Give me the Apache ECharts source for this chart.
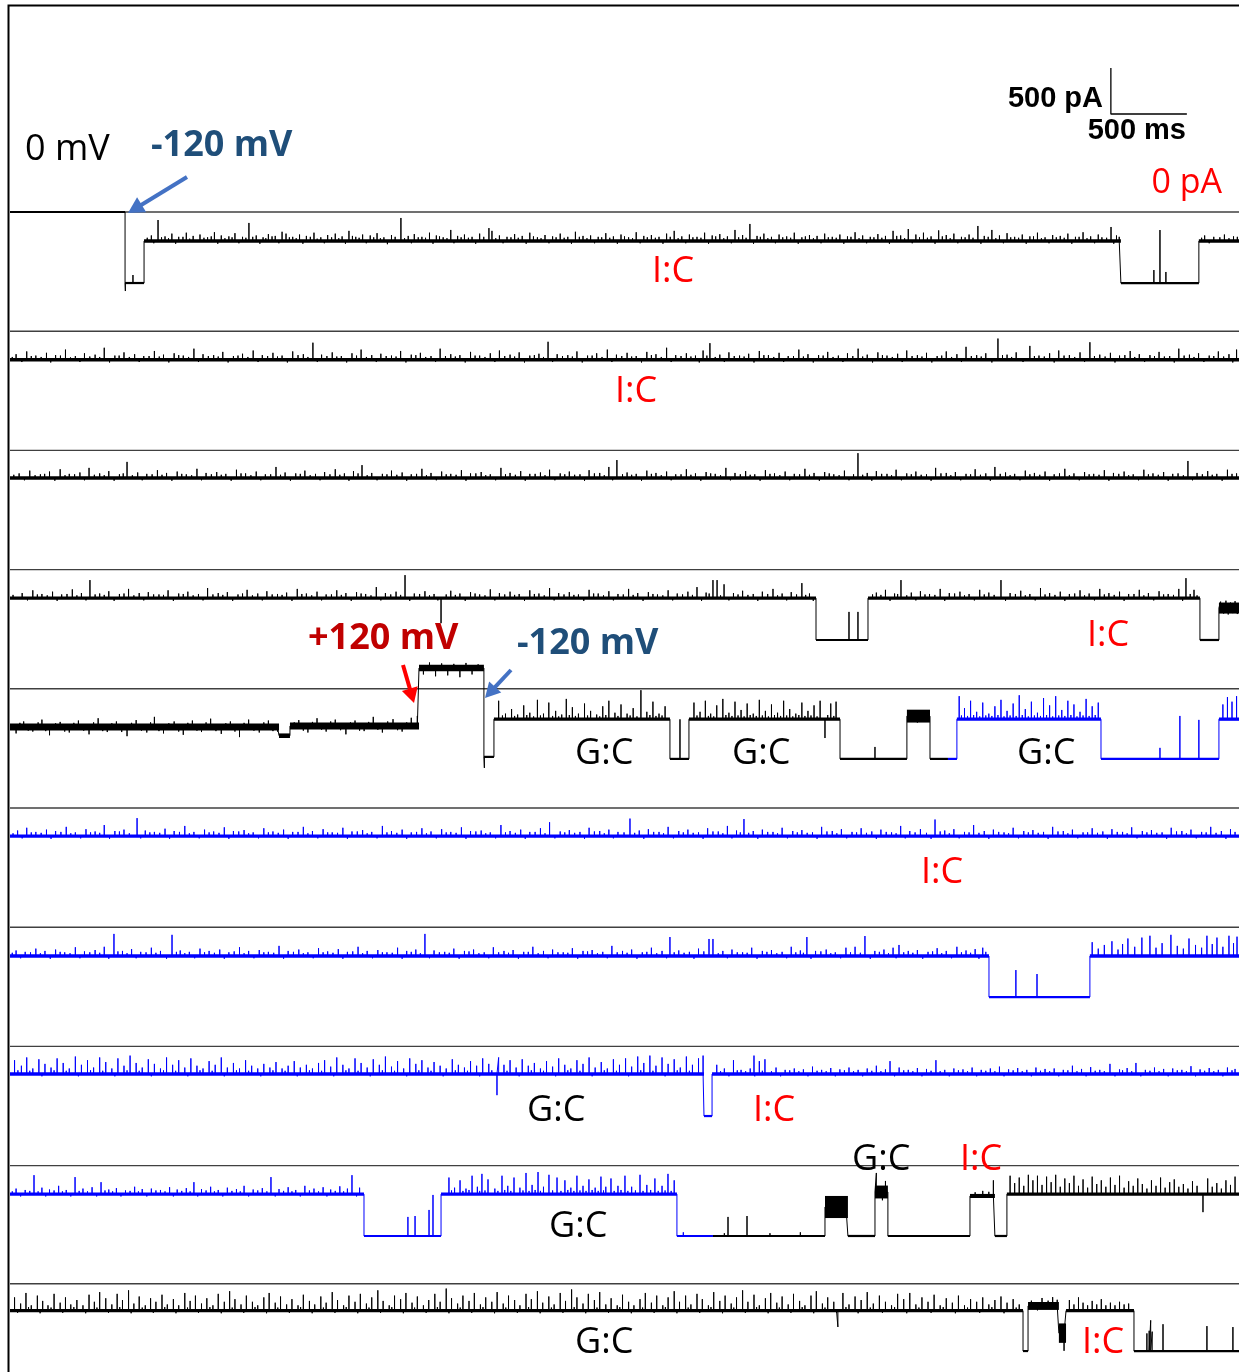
<!DOCTYPE html>
<html>
<head>
<meta charset="utf-8">
<script src="https://cdn.jsdelivr.net/npm/echarts@6/dist/echarts.min.js"></script>
<style>
  html, body { margin: 0; padding: 0; background: #ffffff; }
  #chart { width: 1239px; height: 1372px; }
</style>
</head>
<body>
<div id="chart"></div>
<script>
// ---------------------------------------------------------------------------
// Single-channel current recording, cut into ten consecutive sweeps.
// Level segments: [start ms, end ms, mean current pA, noise half-width pA, trace]
//   trace 0 = first recording (black), trace 1 = second recording (blue)
// Spikes / flicker: [time ms, excursion pA relative to the level at that time]
// ---------------------------------------------------------------------------
const SWEEP_MS = 8086;

const row1Levels = [
  [0, 757, 0, 12, 0],
  [757, 882, -772, 12, 0],
  [882, 7309, -315, 18, 0],
  [7309, 7822, -772, 12, 0],
  [7822, 8086, -315, 18, 0]
];
const row1Spikes = [
  [759,-87],[809,87],
  [930,60],[974,228],[1020,50],[1065,80],[1110,45],[1160,90],[1205,55],[1250,70],[1300,40],[1345,95],[1390,60],[1440,50],[1480,85],[1530,45],[1572,196],[1620,60],[1665,40],[1700,75],[1745,55],[1790,100],[1816,80],[1860,45],[1905,70],[1950,55],[2000,90],[2045,40],[2090,65],[2140,80],[2185,50],[2230,110],[2275,45],[2320,70],[2370,60],[2415,85],[2460,40],[2510,65],[2572,250],[2620,55],[2660,75],[2710,45],[2760,90],[2805,60],[2850,40],[2900,120],[2945,55],[2990,70],[3040,45],[3090,80],[3151,140],[3171,110],[3220,60],[3270,45],[3320,75],[3370,55],[3420,90],[3470,40],[3520,65],[3570,50],[3620,80],[3670,45],[3720,100],[3770,55],[3820,60],[3870,45],[3920,85],[3970,50],[4020,70],[4070,40],[4120,95],[4170,55],[4220,65],[4270,45],[4320,80],[4370,110],[4420,50],[4470,70],[4520,45],[4570,90],[4620,60],[4670,75],[4720,50],[4770,120],[4820,65],[4868,185],[4915,55],[4960,80],[5010,45],[5060,70],[5110,50],[5160,90],[5210,40],[5260,65],[5310,55],[5360,80],[5410,45],[5460,70],[5510,50],[5560,95],[5610,60],[5660,45],[5710,75],[5760,55],[5810,110],[5860,60],[5910,130],[5960,70],[6010,90],[6060,50],[6110,115],[6160,65],[6210,80],[6260,45],[6310,70],[6368,163],[6410,55],[6460,120],[6510,60],[6560,85],[6610,45],[6660,70],[6710,50],[6760,90],[6810,40],[6860,65],[6910,55],[6960,80],[7010,45],[7060,95],[7110,50],[7160,70],[7244,152],[7280,60],
  [7526,141],[7566,576],[7605,120],
  [7860,60],[7920,45],[7990,70],[8050,50]
];
const row1Flicker = [
  [903,35],[946,-25],[997,40],[1043,30],[1090,-30],[1138,45],[1182,25],[1229,-20],[1276,35],[1324,50],[1367,-30],[1414,30],[1461,40],[1506,-25],[1552,35],[1597,45],[1644,-30],[1683,30],[1724,50],[1769,-25],[1838,40],[1883,30],[1927,-30],[1976,45],[2021,25],[2068,-25],[2116,40],[2163,30],[2207,-30],[2253,55],[2297,35],[2344,-25],[2393,40],[2437,30],[2483,-35],[2534,45],[2596,30],[2641,-25],[2686,40],[2734,35],[2783,-30],[2826,50],[2875,30],[2921,-25],[2968,40],[3016,35],[3064,-30],[3117,45],[3196,30],[3244,-25],[3296,40],[3344,35],[3396,-30],[3444,50],[3494,30],[3546,-25],[3593,40],[3646,35],[3694,-30],[3746,45],[3796,30],[3846,-25],[3893,40],[3946,35],[3996,-30],[4043,50],[4096,30],[4146,-25],[4193,40],[4246,35],[4296,-30],[4344,45],[4396,30],[4446,-25],[4493,40],[4546,35],[4596,-30],[4643,50],[4696,30],[4746,-25],[4794,40],[4843,35],[4892,-30],[4937,45],[4986,30],[5036,-25],[5084,40],[5136,35],[5186,-30],[5233,50],[5286,30],[5336,-25],[5384,40],[5436,35],[5486,-30],[5533,45],[5586,30],[5636,-25],[5684,40],[5736,35],[5786,-30],[5834,55],[5886,30],[5936,-25],[5984,40],[6036,35],[6086,-30],[6134,50],[6186,30],[6236,-25],[6284,40],[6336,35],[6388,-30],[6436,45],[6486,30],[6536,-25],[6584,40],[6636,35],[6686,-30],[6734,50],[6786,30],[6836,-25],[6884,40],[6936,35],[6986,-30],[7034,45],[7086,30],[7136,-25],[7184,40],[7215,35],[7262,-30],[7298,45],[7840,35],[7890,-25],[7960,40],[8020,30],[8075,45]
];

const row2Levels = [[0, 8086, -310, 18, 0]];
const row2Spikes = [
  [40,60],[110,90],[170,45],[240,75],[300,50],[365,110],[430,40],[490,70],[560,55],[620,130],[690,45],[750,80],[820,60],[880,40],[950,95],[1010,55],[1080,70],[1140,45],[1210,120],[1270,60],[1340,50],[1400,85],[1470,40],[1530,65],[1600,100],[1660,50],[1730,75],[1790,45],[1860,90],[1930,60],[1993,185],[2050,55],[2120,80],[2180,40],[2250,70],[2310,110],[2380,50],[2440,65],[2510,45],[2570,95],[2640,55],[2700,75],[2770,40],[2830,120],[2900,60],[2960,50],[3030,85],[3090,45],[3160,70],[3220,100],[3290,55],[3350,80],[3420,45],[3480,65],[3540,195],[3600,60],[3670,50],[3730,90],[3800,45],[3860,70],[3930,110],[3990,55],[4060,75],[4120,40],[4190,85],[4250,60],[4320,130],[4380,50],[4450,70],[4510,45],[4560,100],[4605,180],[4670,55],[4730,80],[4800,45],[4860,65],[4930,95],[4990,50],[5060,75],[5120,40],[5190,110],[5250,60],[5320,50],[5380,85],[5450,45],[5510,70],[5580,120],[5640,55],[5710,80],[5770,45],[5840,65],[5900,100],[5970,50],[6030,75],[6100,40],[6160,90],[6230,60],[6290,140],[6360,50],[6420,70],[6500,230],[6560,55],[6620,80],[6710,150],[6770,45],[6840,70],[6900,100],[6970,50],[7040,80],[7105,190],[7170,55],[7240,75],[7300,45],[7370,95],[7430,60],[7500,50],[7560,85],[7630,40],[7690,120],[7760,55],[7820,70],[7890,45],[7950,90],[8020,60],[8070,110]
];
const row2Flicker = [
  [15,30],[78,-25],[140,40],[205,30],[268,-30],[332,45],[398,25],[460,-25],[525,35],[590,30],[655,-30],[718,45],[785,30],[850,-25],[915,40],[982,35],[1045,-30],[1110,50],[1175,30],[1240,-25],[1305,40],[1370,35],[1435,-30],[1500,45],[1565,30],[1632,-25],[1695,40],[1760,35],[1825,-30],[1895,50],[1960,30],[2022,-25],[2085,40],[2150,35],[2215,-30],[2280,45],[2345,30],[2410,-25],[2475,40],[2540,35],[2605,-30],[2670,50],[2735,30],[2800,-25],[2865,40],[2930,35],[2995,-30],[3060,45],[3125,30],[3190,-25],[3255,40],[3320,35],[3385,-30],[3450,50],[3510,30],[3570,-25],[3635,40],[3700,35],[3765,-30],[3830,45],[3895,30],[3960,-25],[4025,40],[4090,35],[4155,-30],[4220,50],[4285,30],[4350,-25],[4415,40],[4480,35],[4535,-30],[4585,45],[4640,30],[4700,-25],[4765,40],[4830,35],[4895,-30],[4960,50],[5025,30],[5090,-25],[5155,40],[5220,35],[5285,-30],[5350,45],[5415,30],[5480,-25],[5545,40],[5610,35],[5675,-30],[5740,50],[5805,30],[5870,-25],[5935,40],[6000,35],[6065,-30],[6130,45],[6195,30],[6260,-25],[6325,40],[6390,35],[6460,-30],[6530,50],[6590,30],[6665,-25],[6740,40],[6805,35],[6870,-30],[6935,45],[7005,30],[7070,-25],[7135,40],[7205,35],[7270,-30],[7335,50],[7400,30],[7465,-25],[7530,40],[7595,35],[7660,-30],[7725,45],[7790,30],[7855,-25],[7920,40],[7985,35],[8045,-30]
];

const row3Levels = [[0, 8086, -300, 18, 0]];
const row3Spikes = [
  [60,50],[130,80],[200,40],[260,70],[330,95],[390,45],[460,60],[520,110],[590,50],[650,75],[720,40],[770,175],[840,60],[900,45],[970,85],[1030,55],[1100,70],[1160,40],[1230,100],[1290,55],[1360,65],[1420,45],[1490,90],[1550,50],[1620,70],[1680,40],[1750,120],[1810,60],[1880,50],[1940,80],[2010,45],[2070,65],[2140,95],[2200,50],[2260,75],[2316,140],[2380,55],[2450,45],[2510,80],[2580,60],[2640,40],[2710,100],[2770,55],[2840,70],[2900,45],[2970,85],[3030,50],[3100,65],[3160,40],[3230,110],[3290,55],[3360,75],[3420,45],[3490,60],[3550,90],[3620,50],[3680,70],[3750,40],[3810,85],[3880,55],[3940,120],[3993,195],[4060,60],[4120,45],[4190,80],[4250,55],[4320,70],[4380,40],[4450,95],[4510,50],[4580,65],[4640,45],[4710,110],[4770,55],[4840,75],[4900,40],[4970,85],[5030,50],[5100,70],[5160,45],[5230,100],[5290,55],[5360,65],[5420,40],[5490,80],[5579,270],[5640,55],[5700,75],[5770,45],[5830,90],[5900,50],[5960,70],[6030,40],[6090,110],[6160,55],[6220,65],[6290,45],[6350,95],[6420,50],[6480,120],[6550,60],[6610,45],[6680,80],[6740,55],[6810,70],[6870,40],[6940,100],[7000,50],[7070,65],[7130,45],[7200,85],[7260,55],[7330,70],[7390,40],[7460,90],[7520,50],[7590,65],[7650,45],[7750,185],[7810,55],[7880,75],[7940,45],[8010,90],[8070,50]
];
const row3Flicker = [
  [25,35],[95,-25],[165,30],[228,45],[295,-30],[362,30],[425,40],[490,-25],[555,35],[620,30],[685,-30],[745,50],[805,30],[870,-25],[935,40],[1000,35],[1065,-30],[1130,45],[1195,30],[1260,-25],[1325,40],[1390,35],[1455,-30],[1520,50],[1585,30],[1650,-25],[1715,40],[1780,35],[1845,-30],[1910,45],[1975,30],[2040,-25],[2105,40],[2170,35],[2230,-30],[2290,50],[2350,30],[2415,-25],[2480,40],[2545,35],[2610,-30],[2675,45],[2740,30],[2805,-25],[2870,40],[2935,35],[3000,-30],[3065,50],[3130,30],[3195,-25],[3260,40],[3325,35],[3390,-30],[3455,45],[3520,30],[3585,-25],[3650,40],[3715,35],[3780,-30],[3845,50],[3910,30],[3965,-25],[4030,40],[4090,35],[4155,-30],[4220,45],[4285,30],[4350,-25],[4415,40],[4480,35],[4545,-30],[4610,50],[4675,30],[4740,-25],[4805,40],[4870,35],[4935,-30],[5000,45],[5065,30],[5130,-25],[5195,40],[5260,35],[5325,-30],[5390,50],[5455,30],[5520,-25],[5550,40],[5610,35],[5670,-30],[5735,45],[5800,30],[5865,-25],[5930,40],[5995,35],[6060,-30],[6125,50],[6190,30],[6255,-25],[6320,40],[6385,35],[6450,-30],[6515,45],[6580,30],[6645,-25],[6710,40],[6775,35],[6840,-30],[6905,50],[6970,30],[7035,-25],[7100,40],[7165,35],[7230,-30],[7295,45],[7360,30],[7425,-25],[7490,40],[7555,35],[7620,-30],[7685,50],[7720,30],[7780,-25],[7845,40],[7910,35],[7975,-30],[8040,45]
];

const row4Levels = [
  [0, 5303, -310, 18, 0],
  [5303, 5645, -765, 12, 0],
  [5645, 7829, -310, 18, 0],
  [7829, 7954, -765, 12, 0],
  [7954, 8086, -418, 60, 0]
];
const row4Spikes = [
  [80,55],[150,85],[210,45],[280,70],[340,40],[410,95],[470,55],[526,196],[590,50],[650,75],[720,45],[780,100],[850,55],[910,65],[980,40],[1040,85],[1110,50],[1170,70],[1240,45],[1300,110],[1370,55],[1430,65],[1500,40],[1560,90],[1630,50],[1690,75],[1760,45],[1820,60],[1890,100],[1950,50],[2020,70],[2080,40],[2150,85],[2210,55],[2280,65],[2340,45],[2410,120],[2470,55],[2540,70],[2599,250],[2660,50],[2730,75],[2790,45],[2836,-272],[2900,80],[2960,50],[3030,65],[3090,40],[3160,95],[3220,55],[3290,70],[3350,45],[3420,85],[3480,50],[3550,110],[3610,55],[3680,65],[3740,40],[3810,90],[3870,50],[3940,75],[4000,45],[4070,100],[4130,55],[4200,65],[4260,40],[4330,85],[4390,50],[4460,70],[4520,120],[4580,60],[4625,196],[4652,196],[4698,150],[4760,55],[4820,80],[4890,45],[4950,70],[5020,100],[5080,50],[5140,65],[5210,163],[5260,50],
  [5520,305],[5579,305],
  [5700,60],[5760,90],[5820,50],[5862,196],[5930,60],[5990,75],[6050,45],[6120,100],[6180,55],[6250,70],[6310,45],[6380,90],[6440,60],[6520,196],[6580,55],[6650,80],[6710,45],[6780,110],[6840,55],[6910,70],[6970,45],[7040,85],[7100,50],[7170,100],[7230,55],[7300,70],[7360,45],[7430,90],[7490,55],[7560,75],[7620,45],[7690,100],[7737,217],[7790,90],
  [7965,70],[7985,-60],[8000,80],[8015,-70],[8030,60],[8045,-55],[8060,75],[8075,-65]
];
const row4Flicker = [
  [20,35],[115,-25],[180,40],[245,30],[310,-30],[375,45],[440,30],[500,-25],[560,40],[620,35],[685,-30],[750,50],[815,30],[880,-25],[945,40],[1010,35],[1075,-30],[1140,45],[1205,30],[1270,-25],[1335,40],[1400,35],[1465,-30],[1530,50],[1595,30],[1660,-25],[1725,40],[1790,35],[1855,-30],[1920,45],[1985,30],[2050,-25],[2115,40],[2180,35],[2245,-30],[2310,50],[2375,30],[2440,-25],[2505,40],[2570,35],[2630,-30],[2695,45],[2760,30],[2815,-25],[2870,40],[2930,35],[2995,-30],[3060,50],[3125,30],[3190,-25],[3255,40],[3320,35],[3385,-30],[3450,45],[3515,30],[3580,-25],[3645,40],[3710,35],[3775,-30],[3840,50],[3905,30],[3970,-25],[4035,40],[4100,35],[4165,-30],[4230,45],[4295,30],[4360,-25],[4425,40],[4490,35],[4550,-30],[4600,50],[4675,30],[4730,-25],[4790,40],[4855,35],[4920,-30],[4985,45],[5050,30],[5110,-25],[5175,40],[5235,35],[5285,-30],[5675,40],[5730,35],[5790,-30],[5840,45],[5900,30],[5960,-25],[6020,40],[6085,35],[6150,-30],[6215,50],[6280,30],[6345,-25],[6410,40],[6475,35],[6550,-30],[6615,45],[6680,30],[6745,-25],[6810,40],[6875,35],[6940,-30],[7005,50],[7070,30],[7135,-25],[7200,40],[7265,35],[7330,-30],[7395,45],[7460,30],[7525,-25],[7590,40],[7655,35],[7715,-30],[7765,45],[7810,30]
];

const row5Levels = [
  [0, 1770, -415, 38, 0],
  [1770, 1842, -510, 25, 0],
  [1842, 2691, -405, 38, 0],
  [2691, 3118, 226, 35, 0],
  [3118, 3184, -740, 12, 0],
  [3184, 4342, -330, 18, 0],
  [4342, 4467, -762, 12, 0],
  [4467, 5461, -330, 18, 0],
  [5461, 5901, -762, 12, 0],
  [5901, 6053, -297, 70, 0],
  [6053, 6171, -762, 12, 0],
  [6171, 6230, -762, 12, 1],
  [6230, 7178, -330, 18, 1],
  [7178, 7954, -762, 12, 1],
  [7954, 8086, -330, 18, 1]
];
const row5Spikes = [
  [40,-70],[90,60],[150,-50],[210,80],[260,-90],[330,55],[390,-60],[450,70],[520,-80],[580,95],[640,-55],[700,60],[770,-100],[830,75],[900,-60],[950,110],[1010,-70],[1080,60],[1140,-85],[1200,70],[1260,-55],[1320,90],[1390,-75],[1450,60],[1510,-110],[1570,80],[1640,-60],[1700,70],[1760,-50],[1900,65],[1960,-70],[2020,85],[2080,-60],[2140,70],[2210,-90],[2270,60],[2330,-55],[2390,100],[2450,-70],[2520,75],[2580,-60],[2640,90],[2680,110],
  [2720,-70],[2760,60],[2800,-90],[2840,50],[2880,-80],[2920,45],[2960,-100],[3000,55],[3040,-70],[3080,40],
  [3121,-120],
  [3215,200],[3260,60],[3300,110],[3340,50],[3380,150],[3420,70],[3470,210],[3510,60],[3545,180],[3590,90],[3630,50],[3660,220],[3700,130],[3740,60],[3780,170],[3820,90],[3860,50],[3900,140],[3940,200],[3980,70],[4020,160],[4060,60],[4100,120],[4151,315],[4190,80],[4230,190],[4270,60],[4310,140],
  [4408,430],
  [4500,180],[4540,80],[4575,200],[4610,60],[4650,150],[4690,220],[4730,70],[4770,190],[4810,100],[4850,170],[4890,60],[4930,210],[4970,90],[5010,160],[5050,70],[5090,200],[5130,110],[5170,60],[5210,180],[5250,90],[5290,150],[5330,200],[5362,-205],[5400,170],[5435,190],
  [5691,130],
  [5930,60],[5970,-70],[6010,50],
  [6245,250],[6280,120],[6320,200],[6360,80],[6400,180],[6440,60],[6480,140],[6520,210],[6560,90],[6600,170],[6640,260],[6680,110],[6720,190],[6760,70],[6800,230],[6840,150],[6880,250],[6920,100],[6960,200],[7000,160],[7040,80],[7080,220],[7120,140],[7160,180],
  [7566,120],[7697,467],[7822,424],
  [7980,160],[8010,240],[8040,190],[8070,250]
];
const row5Flicker = [
  [65,45],[120,-40],[185,50],[235,-45],[300,40],[360,-50],[420,45],[485,-40],[550,50],[610,-45],[670,40],[735,-55],[800,45],[865,-40],[925,50],[980,-45],[1045,40],[1110,-50],[1170,45],[1230,-40],[1290,50],[1355,-45],[1420,40],[1480,-50],[1540,45],[1605,-40],[1670,50],[1730,-45],[1870,40],[1930,-50],[1990,45],[2050,-40],[2110,50],[2175,-45],[2240,40],[2300,-50],[2360,45],[2420,-40],[2485,50],[2550,-45],[2610,40],
  [3240,40],[3320,35],[3400,45],[3445,30],[3490,40],[3570,35],[3610,30],[3680,45],[3720,35],[3800,40],[3880,30],[3920,45],[4000,35],[4080,40],[4125,30],[4210,45],[4250,35],[4290,40],
  [4520,40],[4595,35],[4630,30],[4710,45],[4750,35],[4790,40],[4830,30],[4870,45],[4910,35],[4950,40],[4990,30],[5030,45],[5070,35],[5110,40],[5150,30],[5190,45],[5230,35],[5270,40],[5310,30],[5380,45],[5420,35],
  [6260,40],[6300,35],[6340,45],[6380,30],[6420,40],[6460,35],[6500,45],[6540,30],[6580,40],[6620,35],[6660,45],[6700,30],[6740,40],[6780,35],[6820,45],[6860,30],[6900,40],[6940,35],[6980,45],[7020,30],[7060,40],[7100,35],[7140,45]
];

const row6Levels = [[0, 8086, -305, 18, 1]];
const row6Spikes = [
  [50,60],[110,90],[170,45],[240,70],[300,55],[370,100],[430,40],[500,75],[560,50],[620,120],[690,55],[750,70],[836,195],[890,60],[950,45],[1020,80],[1080,55],[1150,110],[1210,45],[1280,70],[1340,50],[1410,95],[1470,55],[1540,65],[1600,40],[1670,85],[1730,50],[1800,70],[1860,45],[1930,100],[1990,55],[2060,75],[2120,40],[2190,90],[2250,50],[2320,65],[2380,45],[2450,110],[2510,55],[2580,70],[2640,40],[2710,85],[2770,50],[2840,75],[2900,45],[2970,95],[3030,55],[3100,60],[3160,40],[3230,120],[3290,55],[3360,70],[3420,45],[3490,85],[3550,150],[3620,50],[3680,65],[3750,45],[3810,90],[3880,55],[3940,70],[4000,45],[4079,190],[4140,60],[4200,75],[4270,45],[4330,100],[4400,55],[4460,70],[4530,40],[4590,85],[4660,50],[4720,110],[4780,60],[4829,185],[4890,55],[4950,70],[5020,45],[5080,90],[5150,55],[5210,65],[5280,40],[5340,100],[5410,55],[5470,75],[5540,45],[5600,85],[5670,50],[5730,70],[5800,40],[5860,110],[5920,55],[5990,75],[6086,180],[6150,60],[6210,75],[6280,45],[6340,120],[6410,55],[6470,70],[6540,40],[6600,90],[6670,55],[6730,65],[6800,45],[6860,100],[6930,55],[6990,70],[7060,40],[7120,85],[7190,50],[7250,75],[7320,45],[7380,95],[7450,55],[7510,65],[7580,40],[7640,90],[7710,55],[7770,70],[7840,45],[7900,100],[7970,55],[8030,75]
];
const row6Flicker = [
  [20,30],[80,-25],[140,40],[205,35],[270,-30],[335,45],[400,30],[465,-25],[530,40],[590,35],[655,-30],[720,50],[785,30],[860,-25],[920,40],[985,35],[1050,-30],[1115,45],[1180,30],[1245,-25],[1310,40],[1375,35],[1440,-30],[1505,50],[1570,30],[1635,-25],[1700,40],[1765,35],[1830,-30],[1895,45],[1960,30],[2025,-25],[2090,40],[2155,35],[2220,-30],[2285,50],[2350,30],[2415,-25],[2480,40],[2545,35],[2610,-30],[2675,45],[2740,30],[2805,-25],[2870,40],[2935,35],[3000,-30],[3065,50],[3130,30],[3195,-25],[3260,40],[3325,35],[3390,-30],[3455,45],[3520,30],[3585,-25],[3650,40],[3715,35],[3780,-30],[3845,50],[3910,30],[3970,-25],[4040,40],[4110,35],[4170,-30],[4235,45],[4300,30],[4365,-25],[4430,40],[4495,35],[4560,-30],[4625,50],[4690,30],[4750,-25],[4805,40],[4860,35],[4920,-30],[4985,45],[5050,30],[5115,-25],[5180,40],[5245,35],[5310,-30],[5375,50],[5440,30],[5505,-25],[5570,40],[5635,35],[5700,-30],[5765,45],[5830,30],[5890,-25],[5955,40],[6030,35],[6060,-30],[6120,50],[6180,30],[6245,-25],[6310,40],[6375,35],[6440,-30],[6505,45],[6570,30],[6635,-25],[6700,40],[6765,35],[6830,-30],[6895,50],[6960,30],[7025,-25],[7090,40],[7155,35],[7220,-30],[7285,45],[7350,30],[7415,-25],[7480,40],[7545,35],[7610,-30],[7675,50],[7740,30],[7805,-25],[7870,40],[7935,35],[8000,-30],[8060,45]
];

const row7Levels = [
  [0, 6441, -313, 18, 1],
  [6441, 7105, -759, 12, 1],
  [7105, 8086, -313, 18, 1]
];
const row7Spikes = [
  [40,60],[100,45],[170,80],[230,55],[300,70],[360,40],[430,95],[490,50],[560,65],[620,100],[684,240],[740,55],[800,75],[860,45],[930,90],[990,55],[1066,230],[1120,60],[1180,45],[1250,80],[1310,55],[1380,70],[1440,40],[1510,95],[1570,55],[1640,65],[1700,45],[1770,110],[1830,55],[1900,70],[1960,40],[2030,85],[2090,50],[2160,75],[2220,45],[2290,100],[2350,55],[2420,65],[2480,40],[2550,90],[2610,55],[2670,70],[2730,240],[2790,60],[2860,45],[2920,80],[2990,55],[3050,70],[3120,40],[3180,95],[3250,55],[3310,65],[3380,45],[3440,100],[3510,55],[3570,70],[3640,40],[3700,85],[3770,55],[3830,65],[3900,45],[3960,110],[4030,55],[4090,70],[4160,40],[4220,90],[4290,55],[4342,206],[4400,60],[4470,45],[4530,80],[4599,185],[4625,185],[4690,55],[4750,70],[4820,40],[4880,90],[4950,55],[5010,65],[5080,45],[5140,100],[5200,60],[5243,206],[5300,55],[5370,70],[5430,40],[5500,90],[5560,100],[5625,217],[5690,55],[5750,70],[5810,90],[5849,120],[5910,55],[5970,65],[6040,45],[6100,85],[6160,55],[6230,100],[6290,60],[6350,75],[6400,90],
  [6618,293],[6757,250],
  [7120,150],[7160,80],[7200,120],[7250,160],[7290,70],[7320,130],[7355,190],[7400,100],[7447,200],[7500,220],[7540,90],[7580,140],[7638,230],[7680,110],[7720,80],[7757,190],[7800,120],[7840,90],[7875,220],[7910,130],[7941,200],[7980,100],[8020,220],[8050,140],[8073,210]
];
const row7Flicker = [
  [15,35],[70,-25],[135,40],[200,30],[265,-30],[330,45],[395,30],[460,-25],[525,40],[590,35],[650,-30],[710,50],[770,30],[830,-25],[895,40],[960,35],[1030,-30],[1095,45],[1150,30],[1215,-25],[1280,40],[1345,35],[1410,-30],[1475,50],[1540,30],[1605,-25],[1670,40],[1735,35],[1800,-30],[1865,45],[1930,30],[1995,-25],[2060,40],[2125,35],[2190,-30],[2255,50],[2320,30],[2385,-25],[2450,40],[2515,35],[2580,-30],[2640,45],[2700,30],[2760,-25],[2825,40],[2890,35],[2955,-30],[3020,50],[3085,30],[3150,-25],[3215,40],[3280,35],[3345,-30],[3410,45],[3475,30],[3540,-25],[3605,40],[3670,35],[3735,-30],[3800,50],[3865,30],[3930,-25],[3995,40],[4060,35],[4125,-30],[4190,45],[4255,30],[4320,-25],[4370,40],[4435,35],[4500,-30],[4565,50],[4660,30],[4720,-25],[4785,40],[4850,35],[4915,-30],[4980,45],[5045,30],[5110,-25],[5170,40],[5220,35],[5270,-30],[5335,50],[5400,30],[5465,-25],[5530,40],[5595,35],[5660,-30],[5720,45],[5780,30],[5830,-25],[5880,40],[5940,35],[6005,-30],[6070,50],[6130,30],[6195,-25],[6260,40],[6320,35],[6375,-30],[6420,45]
];

const row8Levels = [
  [0, 4566, -300, 18, 1],
  [4566, 4619, -757, 12, 1],
  [4619, 8086, -300, 18, 1]
];
const row8Spikes = [
  [30,150],[75,90],[110,180],[150,60],[190,160],[230,110],[270,70],[310,170],[350,120],[390,60],[430,190],[470,100],[510,150],[550,70],[590,180],[630,130],[670,60],[710,170],[750,90],[790,200],[830,120],[870,70],[910,160],[950,110],[990,60],[1030,180],[1070,100],[1110,150],[1150,70],[1190,170],[1230,90],[1270,60],[1310,140],[1350,100],[1390,180],[1430,70],[1470,120],[1510,60],[1550,150],[1590,90],[1630,60],[1670,110],[1710,70],[1750,130],[1790,60],[1830,90],[1870,140],[1910,70],[1950,100],[1990,60],[2030,120],[2070,150],[2110,80],[2150,180],[2190,100],[2230,60],[2270,170],[2310,120],[2350,70],[2390,160],[2430,100],[2470,190],[2510,80],[2550,140],[2590,60],[2630,170],[2670,110],[2710,150],[2750,70],[2790,130],[2830,90],[2870,60],[2910,160],[2950,100],[2990,70],[3030,140],[3070,90],[3110,170],[3150,110],[3204,-230],[3215,180],[3250,100],[3290,150],[3330,70],[3370,160],[3410,90],[3450,120],[3490,60],[3530,140],[3570,80],[3610,170],[3650,100],[3690,60],[3730,150],[3770,110],[3810,180],[3850,70],[3890,130],[3930,60],[3970,160],[4010,100],[4050,170],[4090,80],[4130,190],[4170,120],[4210,200],[4250,90],[4290,180],[4330,110],[4370,160],[4410,70],[4450,190],[4490,100],[4530,170],[4560,200],
  [4650,100],[4700,60],[4760,150],[4810,45],[4870,60],[4895,200],[4930,140],[4967,160],[5040,70],[5100,45],[5160,60],[5220,50],[5280,80],[5340,45],[5400,65],[5460,50],[5520,70],[5580,45],[5640,60],[5700,90],[5760,50],[5790,140],[5850,70],[5910,45],[5970,65],[6030,55],[6092,150],[6150,45],[6210,60],[6270,50],[6330,70],[6390,45],[6450,60],[6510,80],[6570,50],[6630,65],[6690,45],[6750,70],[6810,55],[6870,60],[6930,45],[6990,90],[7050,55],[7110,75],[7170,45],[7237,110],[7300,50],[7350,65],[7408,120],[7470,45],[7530,70],[7590,55],[7650,60],[7710,45],[7770,85],[7830,50],[7890,65],[7950,45],[8010,70],[8060,55]
];
const row8Flicker = [
  [52,40],[130,35],[210,-25],[290,40],[370,35],[450,-25],[530,40],[610,35],[690,-25],[770,40],[850,35],[930,-25],[1010,40],[1090,35],[1170,-25],[1250,40],[1330,35],[1410,-25],[1490,40],[1570,35],[1650,-25],[1730,40],[1810,35],[1890,-25],[1970,40],[2050,35],[2130,-25],[2210,40],[2290,35],[2370,-25],[2450,40],[2530,35],[2610,-25],[2690,40],[2770,35],[2850,-25],[2930,40],[3010,35],[3090,-25],[3170,40],[3270,35],[3350,-25],[3430,40],[3510,35],[3590,-25],[3670,40],[3750,35],[3830,-25],[3910,40],[3990,35],[4070,-25],[4150,40],[4230,35],[4310,-25],[4390,40],[4470,35],
  [4675,30],[4730,-25],[4785,40],[4840,30],[4900,-25],[4950,35],[5010,30],[5070,-25],[5130,40],[5190,30],[5250,-25],[5310,35],[5370,30],[5430,-25],[5490,40],[5550,30],[5610,-25],[5670,35],[5730,30],[5820,-25],[5880,40],[5940,30],[6000,-25],[6060,35],[6120,30],[6180,-25],[6240,40],[6300,30],[6360,-25],[6420,35],[6480,30],[6540,-25],[6600,40],[6660,30],[6720,-25],[6780,35],[6840,30],[6900,-25],[6960,40],[7020,30],[7080,-25],[7140,35],[7200,30],[7270,-25],[7320,40],[7380,30],[7440,-25],[7500,35],[7560,30],[7620,-25],[7680,40],[7740,30],[7800,-25],[7860,35],[7920,30],[7980,-25],[8040,40]
];

const row9Levels = [
  [0, 2329, -310, 18, 1],
  [2329, 2836, -765, 12, 1],
  [2836, 4388, -310, 18, 1],
  [4388, 4625, -765, 12, 1],
  [4625, 5362, -765, 12, 0],
  [5362, 5513, -450, 120, 0],
  [5513, 5691, -765, 12, 0],
  [5691, 5776, -287, 70, 0],
  [5776, 6316, -765, 12, 0],
  [6316, 6480, -330, 22, 0],
  [6480, 6559, -765, 12, 0],
  [6559, 8086, -310, 18, 0]
];
const row9Spikes = [
  [40,60],[100,45],[158,206],[210,70],[260,50],[320,90],[370,45],[428,185],[480,60],[540,75],[599,130],[650,50],[700,65],[760,40],[820,80],[870,55],[930,60],[990,45],[1050,75],[1100,50],[1160,65],[1210,130],[1260,55],[1320,80],[1370,45],[1430,70],[1490,55],[1540,90],[1600,50],[1660,65],[1717,185],[1770,55],[1830,75],[1880,45],[1940,90],[2000,60],[2060,75],[2110,50],[2170,85],[2220,60],[2250,206],[2300,70],
  [2618,207],[2665,217],[2757,283],[2783,446],
  [2888,180],[2925,70],[2961,150],[3000,60],[3040,200],[3075,80],[3105,220],[3145,160],[3190,60],[3237,200],[3275,90],[3316,180],[3355,70],[3395,230],[3435,100],[3474,240],[3510,80],[3546,210],[3599,180],[3651,150],[3690,70],[3730,200],[3770,90],[3809,160],[3850,70],[3888,190],[3920,80],[3954,170],[4000,90],[4046,200],[4090,80],[4145,210],[4190,100],[4243,170],[4290,90],[4329,220],[4370,150],
  [4430,40],[4700,30],[4724,207],[4849,217],[5000,30],[5200,40],
  [5380,-60],[5420,90],[5460,-80],[5500,70],
  [5700,207],[5740,-90],[5760,120],
  [6350,40],[6400,55],[6440,45],[6470,170],
  [6580,200],[6610,120],[6640,180],[6670,90],[6700,210],[6730,150],[6760,200],[6790,100],[6820,190],[6850,130],[6880,210],[6910,80],[6940,170],[6970,120],[7000,200],[7030,90],[7060,160],[7090,70],[7120,190],[7150,110],[7180,150],[7210,80],[7240,180],[7270,100],[7300,200],[7330,70],[7360,140],[7390,90],[7420,170],[7450,110],[7480,60],[7510,150],[7540,90],[7570,180],[7600,70],[7630,130],[7660,160],[7690,80],[7720,110],[7750,60],[7780,140],[7810,90],[7849,-196],[7880,170],[7910,80],[7940,120],[7970,60],[8000,150],[8030,100],[8060,190]
];
const row9Flicker = [
  [15,30],[70,-25],[130,35],[185,30],[235,-25],[290,40],[345,30],[400,-25],[455,35],[510,30],[570,-25],[625,40],[675,30],[730,-25],[790,35],[845,30],[900,-25],[960,40],[1020,30],[1075,-25],[1130,35],[1185,30],[1235,-25],[1290,40],[1345,30],[1400,-25],[1460,35],[1515,30],[1570,-25],[1630,40],[1690,30],[1745,-25],[1800,35],[1855,30],[1910,-25],[1970,40],[2030,30],[2085,-25],[2140,35],[2195,30],[2280,-25],
  [2905,40],[2980,35],[3020,45],[3090,35],[3125,40],[3210,35],[3255,45],[3295,35],[3375,40],[3415,35],[3455,45],[3490,35],[3570,40],[3625,35],[3670,45],[3710,35],[3750,40],[3790,35],[3830,45],[3870,35],[3905,40],[3975,35],[4020,45],[4065,35],[4115,40],[4165,35],[4215,45],[4265,35],[4310,40],[4350,35]
];

const row10Levels = [
  [0, 6665, -305, 18, 0],
  [6665, 6698, -763, 12, 0],
  [6698, 6901, -252, 45, 0],
  [6901, 6948, -560, 110, 0],
  [6948, 7395, -305, 18, 0],
  [7395, 8086, -763, 12, 0]
];
const row10Spikes = [
  [30,150],[70,80],[105,200],[140,60],[180,170],[215,110],[250,60],[290,190],[330,90],[365,150],[400,70],[440,120],[480,60],[520,180],[555,100],[590,210],[630,140],[670,70],[705,190],[740,120],[780,230],[815,80],[850,160],[890,60],[925,140],[960,100],[1000,180],[1035,70],[1075,130],[1110,60],[1150,200],[1185,110],[1220,170],[1260,80],[1295,140],[1335,60],[1370,190],[1410,100],[1445,220],[1480,130],[1520,70],[1555,170],[1595,100],[1630,60],[1670,150],[1705,200],[1745,90],[1780,160],[1820,70],[1855,130],[1895,60],[1930,180],[1970,110],[2005,70],[2045,160],[2080,90],[2120,210],[2155,120],[2195,60],[2230,170],[2270,100],[2305,190],[2345,80],[2380,150],[2420,230],[2455,110],[2495,60],[2530,170],[2570,130],[2605,200],[2645,90],[2680,160],[2720,60],[2755,120],[2795,190],[2830,100],[2870,250],[2905,140],[2945,80],[2980,170],[3020,110],[3055,200],[3095,70],[3130,150],[3170,100],[3205,210],[3245,80],[3280,170],[3320,120],[3355,60],[3395,190],[3430,130],[3470,220],[3505,90],[3545,160],[3580,70],[3620,200],[3655,110],[3695,240],[3730,150],[3770,80],[3805,190],[3845,120],[3880,210],[3920,70],[3955,140],[3995,60],[4030,180],[4070,100],[4105,60],[4145,130],[4180,200],[4220,90],[4255,170],[4295,60],[4330,150],[4370,220],[4405,100],[4445,170],[4480,70],[4520,190],[4555,130],[4595,60],[4630,210],[4670,110],[4705,170],[4745,80],[4780,150],[4820,230],[4855,100],[4895,180],[4930,60],[4970,140],[5005,200],[5045,90],[5080,160],[5120,70],[5155,190],[5195,110],[5230,60],[5270,170],[5305,220],[5345,80],[5380,150],[5420,100],[5447,-185],[5480,200],[5520,70],[5560,160],[5600,120],[5640,210],[5680,80],[5720,170],[5760,100],[5800,60],[5840,190],[5880,130],[5920,200],[5960,70],[6000,150],[6040,100],[6080,180],[6120,60],[6160,140],[6200,90],[6240,170],[6280,60],[6320,130],[6360,100],[6400,150],[6440,70],[6480,120],[6520,160],[6560,90],[6600,130],[6640,70],
  [6720,60],[6760,-50],[6790,90],[6830,60],[6860,100],[6890,70],
  [6935,-200],
  [6970,120],[7000,70],[7030,150],[7060,90],[7090,60],[7120,110],[7150,70],[7180,130],[7210,60],[7240,90],[7270,60],[7300,100],[7330,70],[7360,80],
  [7480,200],[7495,230],[7505,348],[7515,220],[7586,304],[7875,283],[8046,272]
];
const row10Flicker = [
  [50,-25],[122,40],[198,-30],[270,35],[347,-25],[420,40],[498,-30],[572,35],[648,-25],[722,40],[797,-30],[870,35],[943,-25],[1018,40],[1092,-30],[1168,35],[1240,-25],[1315,40],[1390,-30],[1462,35],[1538,-25],[1612,40],[1688,-30],[1762,35],[1838,-25],[1912,40],[1988,-30],[2062,35],[2138,-25],[2212,40],[2288,-30],[2362,35],[2438,-25],[2512,40],[2588,-30],[2662,35],[2738,-25],[2812,40],[2888,-30],[2962,35],[3038,-25],[3112,40],[3188,-30],[3262,35],[3338,-25],[3412,40],[3488,-30],[3562,35],[3638,-25],[3712,40],[3788,-30],[3862,35],[3938,-25],[4012,40],[4088,-30],[4162,35],[4238,-25],[4312,40],[4388,-30],[4462,35],[4538,-25],[4612,40],[4688,-30],[4762,35],[4838,-25],[4912,40],[4988,-30],[5062,35],[5138,-25],[5212,40],[5288,-30],[5362,35],[5438,-25],[5500,40],[5580,-30],[5660,35],[5740,-25],[5820,40],[5900,-30],[5980,35],[6060,-25],[6140,40],[6220,-30],[6300,35],[6380,-25],[6460,40],[6540,-30],[6620,35]
];

// Calibration bar: 500 pA by 500 ms, anchored at its corner (ms, pA)
const SCALE_BAR_CORNER = [7243, 765];
const SCALE_BAR_MS = 500;
const SCALE_BAR_PA = 500;

// ---------------------------------------------------------------------------
const sweeps = [
  [row1Levels, row1Spikes, row1Flicker], [row2Levels, row2Spikes, row2Flicker],
  [row3Levels, row3Spikes, row3Flicker], [row4Levels, row4Spikes, row4Flicker],
  [row5Levels, row5Spikes, row5Flicker], [row6Levels, row6Spikes, row6Flicker],
  [row7Levels, row7Spikes, row7Flicker], [row8Levels, row8Spikes, row8Flicker],
  [row9Levels, row9Spikes, row9Flicker], [row10Levels, row10Spikes, row10Flicker]
];

const TRACE_COLORS = ['#000000', '#0000ff'];
const ROW_PA_MIN = -1000, ROW_PA_MAX = 300;
const ROW_FIRST_TOP = 184.4, ROW_PITCH = 119.2, ROW_HEIGHT = 119.6;
const PLOT_LEFT = 10, PLOT_WIDTH = 1229;

// Turn level segments + excursions into a polyline for one recording
function buildTrace(levels, events, trace) {
  const pts = [];
  levels.forEach(([t0, t1, lvl, , tr]) => {
    if (tr !== trace) {
      if (pts.length && pts[pts.length - 1][1] !== null) pts.push([t0, null]);
      return;
    }
    pts.push([t0, lvl]);
    events.filter(s => s[0] >= t0 && s[0] < t1)
      .sort((a, b) => a[0] - b[0])
      .forEach(([t, d]) => { pts.push([t, lvl], [t, lvl + d], [t, lvl]); });
    pts.push([t1, lvl]);
  });
  return pts;
}

const grids = [{ left: PLOT_LEFT, width: PLOT_WIDTH, top: 5, height: 179.4 }];
const xAxes = [{ type: 'value', gridIndex: 0, min: 0, max: SWEEP_MS, show: false }];
const yAxes = [{ type: 'value', gridIndex: 0, min: 0, max: 1950, show: false }];
const series = [{
  type: 'line', xAxisIndex: 0, yAxisIndex: 0, silent: true, showSymbol: false,
  lineStyle: { color: '#000', width: 1.3 },
  data: [
    [SCALE_BAR_CORNER[0], SCALE_BAR_CORNER[1] + SCALE_BAR_PA],
    [SCALE_BAR_CORNER[0], SCALE_BAR_CORNER[1]],
    [SCALE_BAR_CORNER[0] + SCALE_BAR_MS, SCALE_BAR_CORNER[1]]
  ]
}];

sweeps.forEach(([levels, spikes, flicker], i) => {
  const g = i + 1;
  const events = spikes.concat(flicker);
  grids.push({ left: PLOT_LEFT, width: PLOT_WIDTH, top: ROW_FIRST_TOP + i * ROW_PITCH, height: ROW_HEIGHT });
  xAxes.push({ type: 'value', gridIndex: g, min: 0, max: SWEEP_MS, show: false });
  yAxes.push({ type: 'value', gridIndex: g, min: ROW_PA_MIN, max: ROW_PA_MAX, show: false });
  // 0 pA reference
  series.push({
    type: 'line', xAxisIndex: g, yAxisIndex: g, silent: true, showSymbol: false, z: 1,
    lineStyle: { color: '#404040', width: 1.4 },
    data: [[0, 0], [SWEEP_MS, 0]]
  });
  // baseline noise band of each level
  series.push({
    type: 'custom', xAxisIndex: g, yAxisIndex: g, silent: true, z: 2,
    data: levels,
    encode: { x: [0, 1], y: 2 },
    renderItem: (params, api) => {
      const a = api.coord([api.value(0), api.value(2) + api.value(3)]);
      const b = api.coord([api.value(1), api.value(2) - api.value(3)]);
      return {
        type: 'rect',
        shape: { x: a[0], y: a[1], width: b[0] - a[0], height: Math.max(b[1] - a[1], 1.5) },
        style: { fill: TRACE_COLORS[api.value(4)] }
      };
    }
  });
  // current traces (black and blue recordings)
  [0, 1].forEach(tr => {
    const pts = buildTrace(levels, events, tr);
    if (!pts.some(p => p[1] !== null)) return;
    series.push({
      type: 'line', xAxisIndex: g, yAxisIndex: g, silent: true, showSymbol: false, z: 3,
      connectNulls: false,
      lineStyle: { color: TRACE_COLORS[tr], width: 1 },
      data: pts
    });
  });
});

// Annotations
const FONT = '"Open Sans", "Noto Sans", sans-serif';
function label(text, x, y, color, size, weight, align, family) {
  return {
    type: 'text', x, y, z: 100, silent: true,
    style: {
      text, fill: color, font: `${weight} ${size}px ${family || FONT}`,
      textAlign: align || 'left', textVerticalAlign: 'middle'
    }
  };
}
function arrow(tail, tip, color, width, head) {
  const dx = tip[0] - tail[0], dy = tip[1] - tail[1];
  const len = Math.hypot(dx, dy), ux = dx / len, uy = dy / len;
  const base = [tip[0] - ux * head, tip[1] - uy * head];
  const hw = head * 0.55, px = -uy * hw, py = ux * hw;
  return [
    { type: 'line', z: 100, silent: true,
      shape: { x1: tail[0], y1: tail[1], x2: base[0] + ux * 2, y2: base[1] + uy * 2 },
      style: { stroke: color, lineWidth: width } },
    { type: 'polygon', z: 100, silent: true,
      shape: { points: [tip, [base[0] + px, base[1] + py], [base[0] - px, base[1] - py]] },
      style: { fill: color } }
  ];
}

const RED = '#ff0000', DARK_RED = '#c00000', STEEL = '#1f4e79', ARROW_BLUE = '#4472c4';
const ARIAL = '"Liberation Sans", Arial, sans-serif';

const graphics = [
  { type: 'rect', z: 100, silent: true,
    shape: { x: 8.5, y: 5.5, width: 1400, height: 1500 },
    style: { fill: null, stroke: '#000', lineWidth: 2 } },
  label('0 mV', 25, 150, '#000', 36, 'normal'),
  label('-120 mV', 151, 146, STEEL, 36, 'bold'),
  label('500 pA', 1103, 99, '#000', 29, 'bold', 'right', ARIAL),
  label('500 ms', 1186, 131, '#000', 29, 'bold', 'right', ARIAL),
  label('0 pA', 1222, 183, RED, 34, 'normal', 'right'),
  label('I:C', 652, 272, RED, 36, 'normal'),
  label('I:C', 615, 392, RED, 36, 'normal'),
  label('I:C', 1087, 636, RED, 36, 'normal'),
  label('+120 mV', 308, 639, DARK_RED, 36, 'bold'),
  label('-120 mV', 517, 644, STEEL, 36, 'bold'),
  label('G:C', 575, 754, '#000', 36, 'normal'),
  label('G:C', 732, 754, '#000', 36, 'normal'),
  label('G:C', 1017, 754, '#000', 36, 'normal'),
  label('I:C', 921, 873, RED, 36, 'normal'),
  label('G:C', 527, 1111, '#000', 36, 'normal'),
  label('I:C', 753, 1111, RED, 36, 'normal'),
  label('G:C', 852, 1160, '#000', 36, 'normal'),
  label('I:C', 960, 1160, RED, 36, 'normal'),
  label('G:C', 549, 1227, '#000', 36, 'normal'),
  label('G:C', 575, 1343, '#000', 36, 'normal'),
  label('I:C', 1082, 1343, RED, 36, 'normal'),
  ...arrow([187, 177], [128, 213], ARROW_BLUE, 4, 16),
  ...arrow([403, 665], [414, 703], RED, 4, 15),
  ...arrow([511, 670], [485, 698], ARROW_BLUE, 4, 15)
];

const chart = echarts.init(document.getElementById('chart'), null, { renderer: 'canvas' });
chart.setOption({
  backgroundColor: '#ffffff',
  animation: false,
  grid: grids,
  xAxis: xAxes,
  yAxis: yAxes,
  series: series,
  graphic: graphics
});
</script>
</body>
</html>
